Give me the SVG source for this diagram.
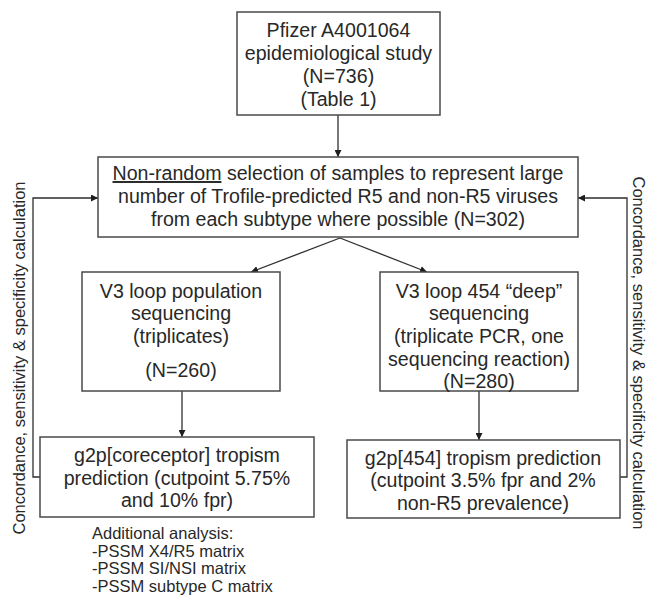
<svg xmlns="http://www.w3.org/2000/svg" width="648" height="609" viewBox="0 0 648 609">
  <style>
    .box { fill: #ffffff; stroke: #4a4a4a; stroke-width: 1.5; }
    .t { font-family: "Liberation Sans", Arial, sans-serif; font-size: 19.6px; fill: #282828; text-anchor: middle; }
    .side { font-family: "Liberation Sans", Arial, sans-serif; font-size: 16.5px; fill: #282828; text-anchor: middle; }
    .note { font-family: "Liberation Sans", Arial, sans-serif; font-size: 16.5px; fill: #282828; }
    .link { fill: none; stroke: #2e2e2e; stroke-width: 1.3; }
    .u { text-decoration: underline; }
  </style>
  <defs>
    <marker id="arrow" viewBox="0 0 10 10" refX="10" refY="5" markerWidth="7" markerHeight="7" markerUnits="userSpaceOnUse" orient="auto">
      <path d="M0,0 L10,5 L0,10 z" fill="#1e1e1e"/>
    </marker>
  </defs>
  <rect width="648" height="609" fill="#ffffff"/>

  <!-- connectors -->
  <g id="connectors">
    <line class="link" x1="338" y1="115" x2="338" y2="157" marker-end="url(#arrow)"/>
    <line class="link" x1="340" y1="238" x2="251" y2="272" marker-end="url(#arrow)"/>
    <line class="link" x1="340" y1="238" x2="427" y2="272" marker-end="url(#arrow)"/>
    <line class="link" x1="182" y1="391" x2="182" y2="437" marker-end="url(#arrow)"/>
    <line class="link" x1="479" y1="391" x2="479" y2="440" marker-end="url(#arrow)"/>
    <polyline class="link" points="40,477 33,477 33,198 98,198" marker-end="url(#arrow)"/>
    <polyline class="link" points="620,477 627,477 627,198 578,198" marker-end="url(#arrow)"/>
  </g>

  <!-- study source -->
  <g id="study">
    <rect class="box" x="237" y="12" width="203" height="103"/>
    <text class="t" x="338.5" y="37">Pfizer A4001064</text>
    <text class="t" x="338.5" y="60">epidemiological study</text>
    <text class="t" x="338.5" y="83">(N=736)</text>
    <text class="t" x="338.5" y="106">(Table 1)</text>
  </g>

  <!-- sample selection -->
  <g id="selection">
    <rect class="box" x="98" y="157" width="480" height="80"/>
    <text class="t" x="338" y="180"><tspan class="u">Non-random</tspan> selection of samples to represent large</text>
    <text class="t" x="338" y="203">number of Trofile-predicted R5 and non-R5 viruses</text>
    <text class="t" x="338" y="226">from each subtype where possible (N=302)</text>
  </g>

  <!-- population sequencing -->
  <g id="population">
    <rect class="box" x="82" y="272" width="198" height="119"/>
    <text class="t" x="181" y="298">V3 loop population</text>
    <text class="t" x="181" y="320">sequencing</text>
    <text class="t" x="181" y="343">(triplicates)</text>
    <text class="t" x="181" y="377">(N=260)</text>
  </g>

  <!-- deep sequencing -->
  <g id="deep">
    <rect class="box" x="380" y="272" width="198" height="119"/>
    <text class="t" x="479" y="298">V3 loop 454 “deep”</text>
    <text class="t" x="479" y="320">sequencing</text>
    <text class="t" x="479" y="343">(triplicate PCR, one</text>
    <text class="t" x="479" y="366">sequencing reaction)</text>
    <text class="t" x="479" y="388">(N=280)</text>
  </g>

  <!-- coreceptor prediction -->
  <g id="g2p-coreceptor">
    <rect class="box" x="40" y="437" width="274" height="80"/>
    <text class="t" x="177" y="462">g2p[coreceptor] tropism</text>
    <text class="t" x="177" y="485">prediction (cutpoint 5.75%</text>
    <text class="t" x="177" y="507">and 10% fpr)</text>
  </g>

  <!-- 454 prediction -->
  <g id="g2p-454">
    <rect class="box" x="347" y="440" width="273" height="78"/>
    <text class="t" x="483" y="465">g2p[454] tropism prediction</text>
    <text class="t" x="483" y="487">(cutpoint 3.5% fpr and 2%</text>
    <text class="t" x="483" y="510">non-R5 prevalence)</text>
  </g>

  <!-- side labels of the feedback loops -->
  <g id="label-left">
    <text class="side" transform="translate(25,358) rotate(-90)">Concordance, sensitivity &amp; specificity calculation</text>
  </g>
  <g id="label-right">
    <text class="side" transform="translate(633,353) rotate(90)">Concordance, sensitivity &amp; specificity calculation</text>
  </g>

  <!-- additional analysis note -->
  <g id="additional">
    <text class="note" x="92" y="539">Additional analysis:</text>
    <text class="note" x="92" y="557">-PSSM X4/R5 matrix</text>
    <text class="note" x="92" y="574">-PSSM SI/NSI matrix</text>
    <text class="note" x="92" y="592">-PSSM subtype C matrix</text>
  </g>
</svg>
